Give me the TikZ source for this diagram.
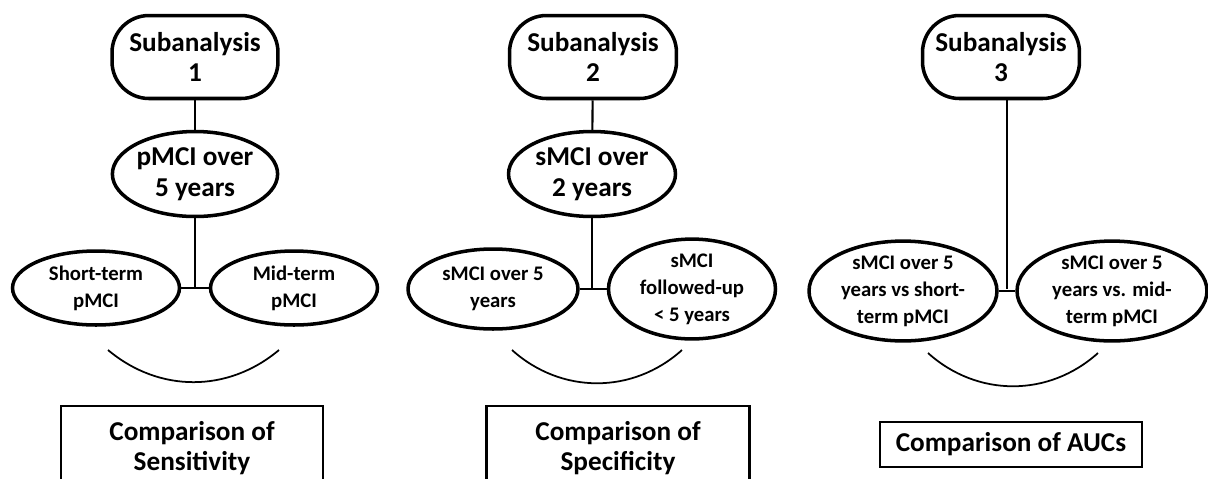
\documentclass[tikz,border=0pt]{standalone}
\usepackage{fontspec}
\setmainfont{Carlito}
\usepackage{tikz}
\usetikzlibrary{shapes.geometric}

\begin{document}
\begin{tikzpicture}[
    x=0.02cm, y=0.02cm,
    subbox/.style={draw, line width=2pt, rounded corners=21pt, align=center,
      minimum width=3.32cm, minimum height=1.66cm, inner sep=0pt,
      font=\fontsize{15.5}{17.5}\selectfont\bfseries},
    groupell/.style={draw, ellipse, line width=2pt, align=center, inner sep=0pt,
      minimum width=3.3cm, minimum height=1.7cm,
      font=\fontsize{15.5}{17.5}\selectfont\bfseries},
    smallell/.style={draw, ellipse, line width=2pt, align=center, inner sep=0pt,
      font=\fontsize{11.8}{15.3}\selectfont\bfseries},
    cmpbox/.style={draw, line width=1.2pt, align=center, inner sep=0pt,
      minimum width=5.24cm, font=\fontsize{15.5}{17.5}\selectfont\bfseries},
    link/.style={line width=1.2pt},
    brace/.style={line width=1pt}
]
  \useasboundingbox (0,0) rectangle (1208,-478);

  % Subanalysis 1
  \node[subbox] (sub1) at (195,-57) {Subanalysis\\1};
  \node[groupell] (grp1) at (195,-174) {pMCI over\\5 years};
  \node[smallell, minimum width=3.34cm, minimum height=1.48cm] (s1a) at (96,-288) {Short-term\\pMCI};
  \node[smallell, minimum width=3.34cm, minimum height=1.48cm] (s1b) at (294,-288) {Mid-term\\pMCI};
  \coordinate (j1) at (195,-288);
  \draw[link] (sub1) -- (grp1);
  \draw[link] (grp1) -- (j1);
  \draw[link] (s1a) -- (s1b);
  \coordinate (b1l) at (108,-350);
  \coordinate (b1r) at (279,-350);
  \draw[brace] (b1l) to[bend right=40] (b1r);
  \node[cmpbox, minimum height=1.68cm] (cmp1) at (192,-448) {Comparison of\\Sensitivity};

  % Subanalysis 2
  \node[subbox, minimum width=3.34cm] (sub2) at (593,-57) {Subanalysis\\2};
  \node[groupell, minimum width=3.34cm] (grp2) at (592,-174) {sMCI over\\2 years};
  \node[smallell, minimum width=3.4cm, minimum height=1.6cm] (s2a) at (493,-289) {sMCI over 5\\years};
  \node[smallell, minimum width=3.34cm, minimum height=1.68cm] (s2b) at (692,-289) {sMCI\\followed-up\\< 5 years};
  \coordinate (j2) at (592,-289);
  \draw[link] (sub2) -- (grp2);
  \draw[link] (grp2) -- (j2);
  \draw[link] (s2a) -- (s2b);
  \coordinate (b2l) at (512,-350);
  \coordinate (b2r) at (682,-350);
  \draw[brace] (b2l) to[bend right=42] (b2r);
  \node[cmpbox, minimum width=5.26cm, minimum height=1.68cm] (cmp2) at (618,-448) {Comparison of\\Specificity};

  % Subanalysis 3
  \node[subbox, minimum width=3.14cm] (sub3) at (1001,-57) {Subanalysis\\3};
  \node[smallell, minimum width=3.76cm, minimum height=1.84cm] (s3a) at (903,-291) {sMCI over 5\\years vs short-\\term pMCI};
  \node[smallell, minimum width=3.8cm, minimum height=1.9cm] (s3b) at (1112,-291) {sMCI over 5\\years vs. mid-\\term pMCI};
  \coordinate (j3) at (1007,-289);
  \draw[link] (j3 |- sub3.south) -- (j3);
  \draw[link] (s3a) -- (s3b);
  \coordinate (b3l) at (928,-353);
  \coordinate (b3r) at (1098,-353);
  \draw[brace] (b3l) to[bend right=42] (b3r);
  \node[cmpbox, minimum height=0.9cm] (cmp3) at (1011,-444.5) {Comparison of AUCs};
\end{tikzpicture}
\end{document}
